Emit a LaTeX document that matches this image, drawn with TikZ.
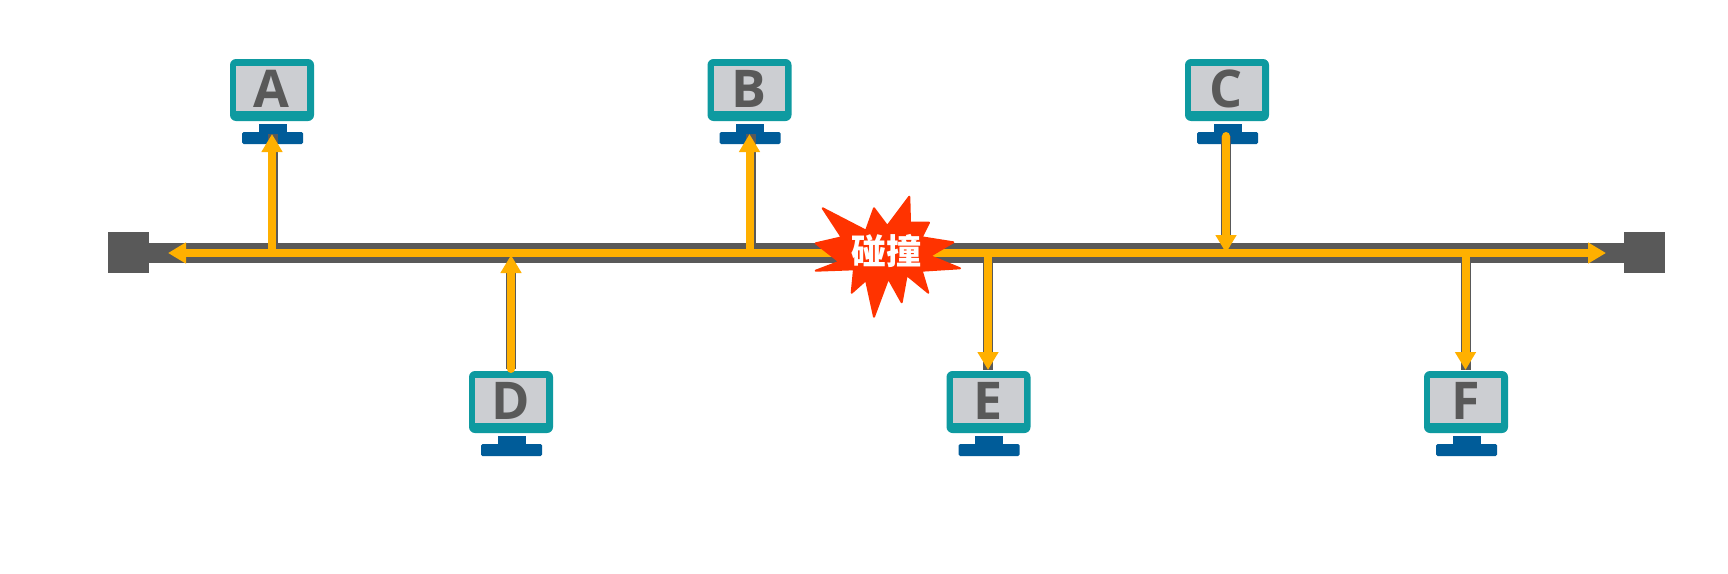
\documentclass[tikz,border=0pt]{standalone}
\usepackage{fontspec}
\setmainfont{Open Sans}
\newfontfamily\cjkfont{Noto Sans CJK SC}
\usetikzlibrary{arrows.meta}
\definecolor{busgray}{HTML}{595959}
\definecolor{signal}{HTML}{FFB000}
\definecolor{framecol}{HTML}{0E9AA0}
\definecolor{screencol}{HTML}{CCCED2}
\definecolor{standcol}{HTML}{005C99}
\definecolor{burst}{HTML}{FF3300}
\tikzset{
  x=1pt,y=-1pt,
  every node/.style={inner sep=0pt,outer sep=0pt},
  frame/.style={fill=framecol,rounded corners=6pt,minimum width=84pt,minimum height=62pt},
  screen/.style={fill=screencol,minimum width=71pt,minimum height=45pt,text=busgray,font=\fontsize{52pt}{52pt}\selectfont\bfseries},
  neck/.style={fill=standcol,minimum width=28pt,minimum height=9pt},
  base/.style={fill=standcol,rounded corners=1.5pt,minimum width=61pt,minimum height=12pt},
  terminator/.style={fill=busgray,minimum width=41pt,minimum height=41pt},
  busline/.style={draw=busgray,line width=20pt},
  tapline/.style={draw=busgray,line width=10pt},
  sig/.style={draw=signal,line width=8pt},
  sighead/.style={draw=signal,line width=8pt,-{Triangle[length=18pt,width=20pt]}},
}
\newcommand{\monitor}[4]{% name, centre x, top y, label
  \node[frame] (#1) at (#2,#3+31) {};
  \node[screen,text height=37pt,text depth=0pt] (#1s) at (#2-.5,#3+29.5) {#4};
  \node[neck] (#1n) at (#2+.5,#3+69.5) {};
  \node[base] (#1b) at (#2+.5,#3+79) {};
}
\begin{document}
\begin{tikzpicture}
\useasboundingbox (0,0) rectangle (1728,573);
\fill[white] (0,0) rectangle (1728,573);
% monitors
\monitor{A}{272}{59}{A}
\monitor{B}{749.5}{59}{B}
\monitor{C}{1227}{59}{C}
\monitor{D}{511}{371}{D}
\monitor{E}{988.5}{371}{E}
\monitor{F}{1466}{371}{F}
% bus
\node[terminator] (L) at (128.5,252.5) {};
\node[terminator] (R) at (1644.5,252.5) {};
\draw[busline] (L) -- (R);
% free ends
\coordinate (tapA) at (272,253);
\coordinate (tipA) at (272,134);
\coordinate (tapB) at (749.5,253);
\coordinate (tipB) at (749.5,134);
\coordinate (startC) at (1226,136);
\coordinate (tipC) at (1226,253);
\coordinate (startD) at (511,369);
\coordinate (tipD) at (511,255);
\coordinate (tapE) at (988,253);
\coordinate (tipE) at (988,370);
\coordinate (tapF) at (1465.5,253);
\coordinate (tipF) at (1465.5,370);
\coordinate (endL) at (168,253);
\coordinate (midL) at (860,253);
\coordinate (midR) at (900,253);
\coordinate (endR) at (1606,253);
% grey casings of the drops
\draw[tapline] ([xshift=1pt]tapA) -- ([xshift=1pt]tipA);
\draw[tapline] ([xshift=1pt]tapB) -- ([xshift=1pt]tipB);
\draw[tapline] (startC) -- (tipC);
\draw[tapline] (startD) -- (tipD);
\draw[tapline] (tapE) -- (tipE);
\draw[tapline] (tapF) -- (tipF);
% signals
\draw[sighead] (midL) -- (endL);
\draw[sighead] (midR) -- (endR);
\draw[sighead] (tapA) -- (tipA);
\draw[sighead] (tapB) -- (tipB);
\draw[sighead,line cap=round] (startC) -- (tipC);
\draw[sighead,line cap=round] (startD) -- (tipD);
\draw[sighead] (tapE) -- (tipE);
\draw[sighead] (tapF) -- (tipF);
% collision burst
\fill[burst,draw=burst,line width=2pt,line join=round]
  (822.7,208.3) -- (866,230.7) -- (874,208.3) -- (887.3,226) -- (909.3,196.7) -- (910,222.7)
  -- (929,222.7) -- (921.7,237.3) -- (953.3,242.3) -- (930,256) -- (960,268.3) -- (921.7,270.7)
  -- (928.3,292.7) -- (906.7,275) -- (901.7,302.3) -- (888.3,278.3) -- (874,316.7) -- (866,280)
  -- (851.7,292.7) -- (854,269.3) -- (815.7,270.7) -- (839.3,261.7) -- (815.7,243.3) -- (841.7,237.3) -- cycle;
\node[text=white,font=\cjkfont\bfseries\fontsize{35pt}{35pt}\selectfont] (hit) at (886,251) {碰撞};
\end{tikzpicture}
\end{document}
